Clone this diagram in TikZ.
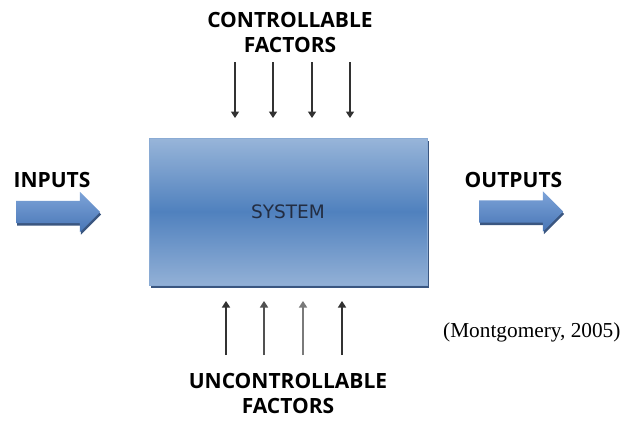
\documentclass[tikz,border=0pt]{standalone}
\usepackage{fontspec}
\usepackage{tikz}
\usetikzlibrary{arrows.meta,shapes.arrows,shadows}
\setmainfont{Liberation Serif}
\newfontfamily\lblfont{Open Sans}
\newfontfamily\sysfont{DejaVu Sans}
\definecolor{boxtop}{RGB}{152,181,217}
\definecolor{boxmid}{RGB}{80,129,190}
\definecolor{boxbot}{RGB}{146,176,214}
\definecolor{boxshade}{RGB}{58,86,128}
\definecolor{arrtop}{RGB}{125,163,216}
\definecolor{arrbot}{RGB}{72,118,182}
\definecolor{factorgray}{RGB}{50,50,50}

\begin{document}
\begin{tikzpicture}[x=1pt,y=-1pt]
        \useasboundingbox (0,0) rectangle (623,420);
        \begin{scope}[
            >={Triangle[width=8pt,length=6.5pt]},
            label/.style={font=\lblfont\bfseries\fontsize{21}{25}\selectfont,align=center,inner sep=0pt},
            blockarrow/.style={single arrow,minimum height=84pt,minimum width=40pt,
                single arrow head extend=9pt,inner sep=11pt,draw=none,
                top color=arrtop,bottom color=arrbot,
                drop shadow={shadow xshift=1pt,shadow yshift=-2.5pt,fill=boxshade,opacity=1}},
            factor/.style={->,line width=2.5pt,draw=factorgray}
            ]
            % the system box
            \node (system) at (288,211.5) [minimum width=278pt,minimum height=147pt,
                top color=boxtop,bottom color=boxbot,middle color=boxmid,
                draw=boxtop!80!boxmid,line width=0.6pt,
                drop shadow={shadow xshift=1.5pt,shadow yshift=-2.5pt,fill=boxshade,opacity=1},
                font=\sysfont\fontsize{18.5}{22}\selectfont,text={rgb,255:red,35;green,45;blue,65}]
                {SYSTEM};
            % inputs and outputs
            \node (inlbl) at (52,180) [label] {INPUTS};
            \node (inarr) at (52.5,212) [blockarrow] {};
            \node (outlbl) at (513.5,180) [label] {OUTPUTS};
            \node (outarr) at (515.5,211.5) [blockarrow] {};
            % controllable factors
            \node (ctrl) at (290,32) [label] {CONTROLLABLE\\FACTORS};
            \coordinate (c1) at (235,62);
            \coordinate (c2) at (273,62);
            \coordinate (c3) at (312,62);
            \coordinate (c4) at (350,62);
            \coordinate (c1e) at (235,118);
            \coordinate (c2e) at (273,118);
            \coordinate (c3e) at (312,118);
            \coordinate (c4e) at (350,118);
            \draw [factor] (c1) -- (c1e);
            \draw [factor] (c2) -- (c2e);
            \draw [factor] (c3) -- (c3e);
            \draw [factor] (c4) -- (c4e);
            % uncontrollable factors
            \node (unctrl) at (288,393) [label] {UNCONTROLLABLE\\FACTORS};
            \coordinate (u1) at (226,355);
            \coordinate (u2) at (264,355);
            \coordinate (u3) at (303,355);
            \coordinate (u4) at (342,355);
            \coordinate (u1e) at (226,301);
            \coordinate (u2e) at (264,301);
            \coordinate (u3e) at (303,301);
            \coordinate (u4e) at (342,301);
            \draw [factor] (u1) -- (u1e);
            \draw [factor,draw=factorgray!85] (u2) -- (u2e);
            \draw [factor,draw=factorgray!65] (u3) -- (u3e);
            \draw [factor] (u4) -- (u4e);
            % source
            \node (src) at (443,337) [anchor=base west,inner sep=0pt,
                font=\fontsize{21.3}{25}\selectfont] {(Montgomery, 2005)};
        \end{scope}
    \end{tikzpicture}
\end{document}
